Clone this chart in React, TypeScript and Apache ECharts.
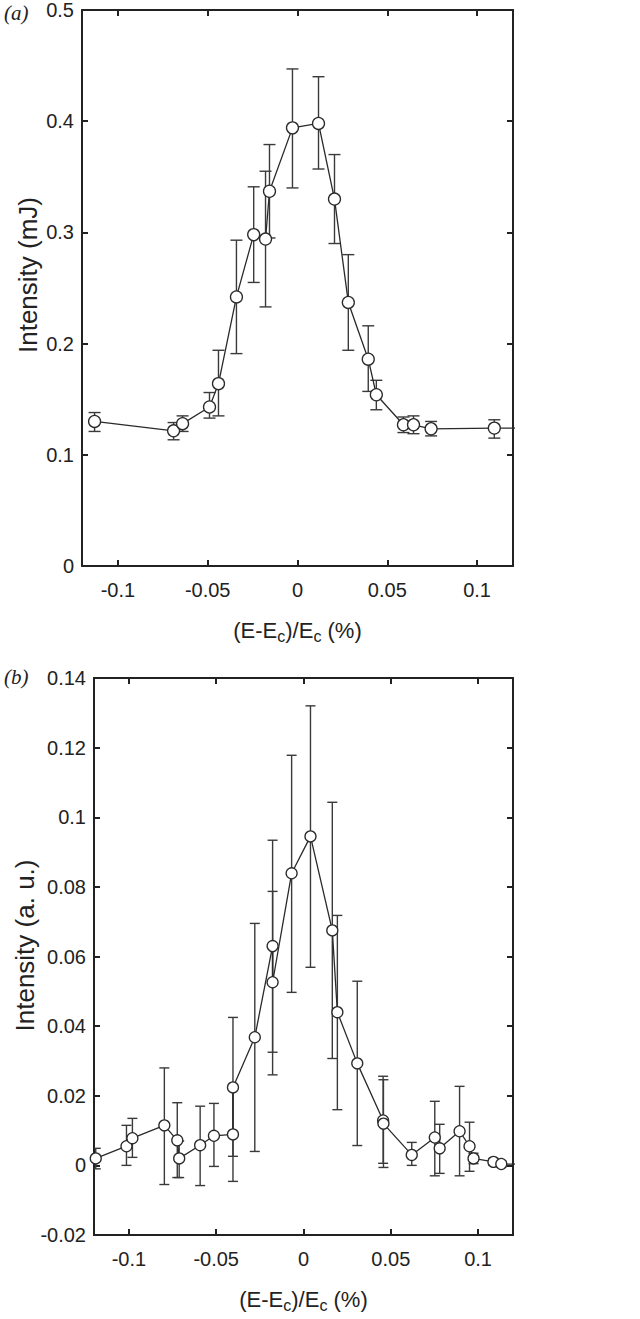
import React, { useEffect, useRef } from "react";
import * as echarts from "echarts";

// Panel (a)
const aX = [-0.113, -0.069, -0.064, -0.049, -0.044, -0.034, -0.0244, -0.0178, -0.0156, -0.0028, 0.0117, 0.0206, 0.0283, 0.0394, 0.0439, 0.059, 0.0646, 0.0744, 0.1096, 0.13];
const aY = [0.130, 0.1216, 0.128, 0.143, 0.164, 0.242, 0.298, 0.294, 0.337, 0.394, 0.398, 0.330, 0.237, 0.186, 0.154, 0.127, 0.127, 0.1234, 0.124, 0.124];
const aLo = [0.121, 0.1135, 0.121, 0.133, 0.135, 0.191, 0.255, 0.233, 0.295, 0.340, 0.357, 0.290, 0.194, 0.157, 0.1405, 0.120, 0.119, 0.117, 0.115, 0.116];
const aHi = [0.138, 0.129, 0.135, 0.156, 0.194, 0.293, 0.341, 0.355, 0.379, 0.447, 0.440, 0.370, 0.280, 0.216, 0.167, 0.134, 0.135, 0.130, 0.1315, 0.132];

// Panel (b)
const bX = [-0.119, -0.1014, -0.098, -0.0797, -0.0723, -0.0712, -0.0592, -0.0513, -0.0404, -0.0404, -0.0279, -0.0177, -0.0177, -0.0068, 0.004, 0.0165, 0.0194, 0.0308, 0.0456, 0.0458, 0.062, 0.0752, 0.078, 0.0894, 0.0951, 0.0974, 0.1088, 0.1133, 0.13];
const bY = [0.002, 0.0055, 0.0078, 0.0115, 0.0072, 0.002, 0.0058, 0.0085, 0.0089, 0.0224, 0.0368, 0.063, 0.0526, 0.0839, 0.0945, 0.0675, 0.044, 0.0293, 0.0129, 0.012, 0.003, 0.008, 0.0049, 0.0098, 0.0055, 0.002, 0.001, 0.0004, 0.0003];
const bLo = [-0.001, 0.0, 0.0023, -0.0055, -0.0035, -0.0035, -0.0058, -0.0003, -0.0046, 0.0026, 0.004, 0.0325, 0.026, 0.0497, 0.0569, 0.0307, 0.016, 0.0057, 0.0006, -0.0006, 0.0, -0.003, -0.0023, -0.003, -0.0017, 0.0005, 0.0, -0.0005, -0.0005];
const bHi = [0.0049, 0.0115, 0.0135, 0.028, 0.018, 0.007, 0.017, 0.0178, 0.0224, 0.0425, 0.0695, 0.0934, 0.0787, 0.1178, 0.132, 0.1043, 0.0718, 0.0529, 0.0256, 0.0246, 0.0066, 0.0184, 0.0118, 0.0227, 0.0124, 0.0035, 0.002, 0.0013, 0.0011];

const xTicks = [-0.1, -0.05, 0, 0.05, 0.1];
const xTitle = "(E-E{s|c})/E{s|c} (%)";
const yTitleA = "Intensity (mJ)";
const yTitleB = "Intensity (a. u.)";
const panelLabels = ["(a)", "(b)"];

const FONT = "'Liberation Sans', Arial, sans-serif";
const INK = "#222";

function fmt(v: number) {
  return String(Math.round(v * 1000) / 1000);
}

function xAxes(gridIndex: number) {
  const common = {
    type: "value",
    gridIndex,
    min: -0.12,
    max: 0.12,
    splitLine: { show: false },
    axisLine: { show: true, onZero: false, lineStyle: { color: INK, width: 2 } },
    axisTick: { show: true, inside: true, length: 6, customValues: xTicks, lineStyle: { color: INK, width: 2 } },
  };
  return [
    {
      ...common,
      position: "bottom",
      name: xTitle,
      nameLocation: "middle",
      nameGap: 50,
      nameMoveOverlap: false,
      nameTextStyle: {
        fontSize: 22,
        lineHeight: 28,
        color: INK,
        fontFamily: FONT,
        rich: { s: { fontSize: 16, lineHeight: 14, verticalAlign: "bottom", color: INK, fontFamily: FONT } },
      },
      axisLabel: { show: true, customValues: xTicks, margin: 14, fontSize: 20, color: INK, fontFamily: FONT, formatter: (v: number) => fmt(v) },
    },
    { ...common, position: "top", axisLabel: { show: false } },
  ];
}

function yAxes(gridIndex: number, min: number, max: number, interval: number, name: string, gap: number, shift: number) {
  const common = {
    type: "value",
    gridIndex,
    min,
    max,
    interval,
    splitLine: { show: false },
    axisLine: { show: true, onZero: false, lineStyle: { color: INK, width: 2 } },
    axisTick: { show: true, inside: true, length: 6, lineStyle: { color: INK, width: 2 } },
  };
  return [
    {
      ...common,
      position: "left",
      name,
      nameLocation: "middle",
      nameGap: gap,
      nameMoveOverlap: false,
      nameTextStyle: { fontSize: 26, color: INK, fontFamily: FONT, padding: [0, 0, 0, shift] },
      axisLabel: { show: true, margin: 8, fontSize: 20, color: INK, fontFamily: FONT, formatter: (v: number) => fmt(v) },
    },
    { ...common, position: "right", axisLabel: { show: false } },
  ];
}

function errRender(cap: number) {
  return (params: any, api: any) => {
    const x = api.value(0);
    const lo = api.value(1);
    const hi = api.value(2);
    const p1 = api.coord([x, lo]);
    const p2 = api.coord([x, hi]);
    const style = { stroke: "#3a3a3a", lineWidth: 1.4, fill: "none" };
    return {
      type: "group",
      children: [
        { type: "line", shape: { x1: p1[0], y1: p1[1], x2: p2[0], y2: p2[1] }, style },
        { type: "line", shape: { x1: p1[0] - cap, y1: p1[1], x2: p1[0] + cap, y2: p1[1] }, style },
        { type: "line", shape: { x1: p2[0] - cap, y1: p2[1], x2: p2[0] + cap, y2: p2[1] }, style },
      ],
    };
  };
}

export default function App() {
  const ref = useRef<HTMLDivElement>(null);
  useEffect(() => {
    if (!ref.current) return;
    const chart = echarts.init(ref.current, undefined, { renderer: "svg" });
    const aLine = aX.map((x, i) => [x, aY[i]]);
    const aErr = aX.map((x, i) => [x, aLo[i], aHi[i]]);
    const bLine = bX.map((x, i) => [x, bY[i]]);
    const bErr = bX.map((x, i) => [x, bLo[i], bHi[i]]);
    const lineCommon = {
      type: "line",
      symbol: "circle",
      clip: true,
      itemStyle: { color: "#fff", borderColor: "#2a2a2a", borderWidth: 1.3 },
      lineStyle: { color: "#2a2a2a", width: 1.3 },
      z: 5,
    };
    chart.setOption({
      animation: false,
      backgroundColor: "#fff",
      grid: [
        { left: 82, top: 10, width: 431, height: 556, outerBoundsMode: "none", containLabel: false },
        { left: 94, top: 678, width: 419, height: 557, outerBoundsMode: "none", containLabel: false },
      ],
      xAxis: [...xAxes(0), ...xAxes(1)],
      yAxis: [...yAxes(0, 0, 0.5, 0.1, yTitleA, 41, 26), ...yAxes(1, -0.02, 0.14, 0.02, yTitleB, 56, 22)],
      graphic: [
        { type: "text", left: 4, top: 2, style: { text: panelLabels[0], font: "italic 21px 'Liberation Serif', serif", fill: INK } },
        { type: "text", left: 4, top: 666, style: { text: panelLabels[1], font: "italic 21px 'Liberation Serif', serif", fill: INK } },
      ],
      series: [
        { type: "custom", xAxisIndex: 0, yAxisIndex: 0, data: aErr, encode: { x: 0, y: [1, 2] }, renderItem: errRender(6), clip: true, z: 2 },
        { ...lineCommon, xAxisIndex: 0, yAxisIndex: 0, data: aLine, symbolSize: 12 },
        { type: "custom", xAxisIndex: 2, yAxisIndex: 2, data: bErr, encode: { x: 0, y: [1, 2] }, renderItem: errRender(5), clip: true, z: 2 },
        { ...lineCommon, xAxisIndex: 2, yAxisIndex: 2, data: bLine, symbolSize: 11 },
      ],
    });
    return () => chart.dispose();
  }, []);
  return <div ref={ref} style={{ position: "absolute", left: 0, top: 0, width: 640, height: 1319, background: "#fff" }} />;
}
